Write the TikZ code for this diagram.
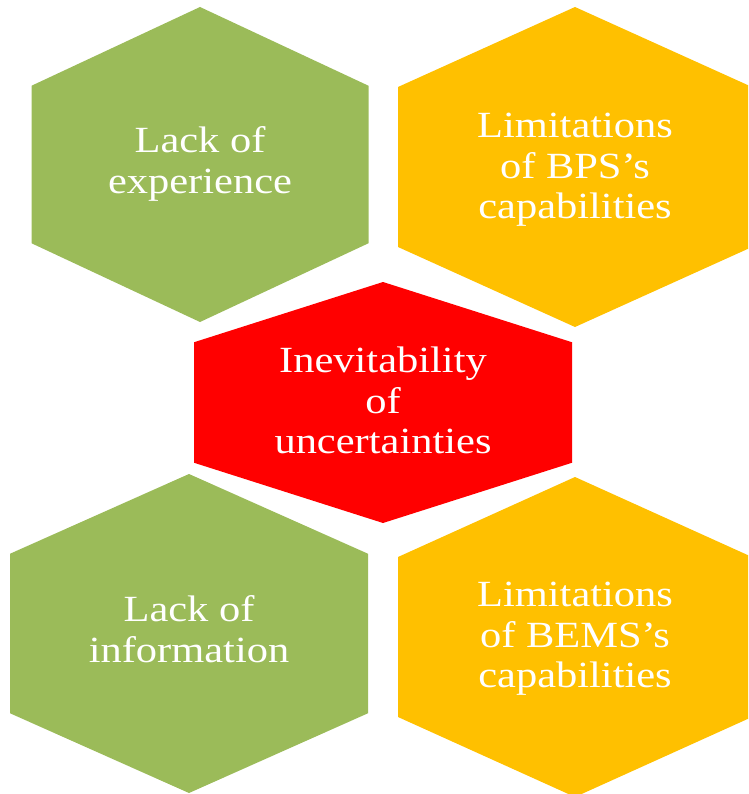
\documentclass[tikz,border=0pt]{standalone}
\usepackage{fontspec}
\setmainfont{Liberation Serif}
\definecolor{causegreen}{RGB}{155,187,89}
\definecolor{causeyellow}{RGB}{255,192,0}
\definecolor{causered}{RGB}{255,0,0}

% pointy-top hexagon: centre x, centre y, half width, half height, colour
\newcommand{\hexcell}[5]{%
  \fill[#5] (#1,#2-#4) -- (#1+#3,#2-#4/2) -- (#1+#3,#2+#4/2) -- (#1,#2+#4)
    -- (#1-#3,#2+#4/2) -- (#1-#3,#2-#4/2) -- cycle;}
% slightly widened centred lines
\newcommand{\wide}[1]{\scalebox{1.15}[1]{\begin{tabular}{@{}c@{}}#1\end{tabular}}}

\tikzset{cause/.style={text=white, inner sep=0pt, font=\fontsize{10.5}{11.6}\selectfont}}

\begin{document}
\begin{tikzpicture}[x=0.01cm, y=-0.01cm]
  \clip (0,0) rectangle (748,794);

  % outer cells
  \hexcell{200}{164.5}{168.5}{157.5}{causegreen}
  \hexcell{575}{167}{177}{160}{causeyellow}
  \hexcell{189}{633.5}{179}{159.5}{causegreen}
  \hexcell{575}{637}{177}{160}{causeyellow}

  % centre cell
  \hexcell{383}{402.5}{189}{120.5}{causered}

  \node[cause] (experience) at (200,165) {\wide{Lack of\\experience}};
  \node[cause] (bps) at (575,170) {\wide{Limitations\\of BPS's\\capabilities}};
  \node[cause] (inevitable) at (383,405) {\wide{Inevitability\\of\\uncertainties}};
  \node[cause] (information) at (189,634) {\wide{Lack of\\information}};
  \node[cause] (bems) at (575,639) {\wide{Limitations\\of BEMS's\\capabilities}};
\end{tikzpicture}
\end{document}
